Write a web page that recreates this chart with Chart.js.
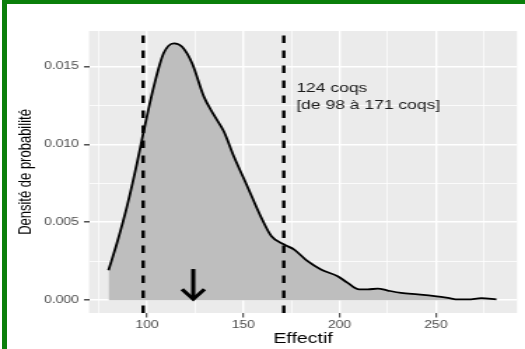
<!DOCTYPE html>
<html>
<head>
<meta charset="utf-8">
<script src="https://cdn.jsdelivr.net/npm/chart.js@4.4.1/dist/chart.umd.min.js"></script>
<style>
  html, body { margin: 0; padding: 0; background: #fff; }
  body { width: 525px; height: 349px; overflow: hidden; position: relative; }
  /* l'image d'origine est étirée horizontalement */
  #etire { position: absolute; left: 0; top: 0; width: 375px; height: 349px; transform: scaleX(1.4); transform-origin: 0 0; }
  #cadre { position: absolute; left: 2px; top: 0; width: 523px; height: 349px; box-sizing: border-box;
           border-left: 5px solid #0a7f0a; border-top: 4px solid #0a7f0a; pointer-events: none; }
</style>
</head>
<body>
<div id="etire"><canvas id="densite" width="375" height="349"></canvas></div>
<div id="cadre"></div>
<script>
// Courbe de densité
const densiteX = [80, 84.4, 89.6, 94.8, 98.2, 103.5, 108.6, 113.9, 118.2, 123.4, 129.5, 134.7, 139.9, 145.1,
  152.1, 159, 164.6, 171.2, 176.4, 183.4, 190.3, 199, 204.2, 210.2, 214.6, 219.8, 225, 231.9, 240.6,
  249.3, 256.2, 261.5, 266.7, 273.6, 281.4];
const densiteY = [0.00192, 0.00367, 0.00602, 0.0088, 0.0108, 0.0137, 0.01584, 0.01648, 0.01626, 0.0152,
  0.01306, 0.01189, 0.01082, 0.00922, 0.0073, 0.00538, 0.0041, 0.00357, 0.00325, 0.0025, 0.00197,
  0.00154, 0.00111, 0.00069, 0.00069, 0.00075, 0.00062, 0.00047, 0.00037, 0.00026, 0.00015, 0.00005,
  0.00005, 0.00013, 0.00005];

// Intervalle et estimation
const bornes = [98, 171];
const effectifEstime = 124;
const flecheDepart = 0.002;
const annotation = ["124 coqs", "[de 98 à 171 coqs]"];
const annotationX = 177.5;
const annotationY = [0.0136, 0.0125];

// Axes
const xLimites = [69.9, 292.1];
const yLimites = [-0.00082, 0.01727];
const xGraduations = [75, 100, 125, 150, 175, 200, 225, 250, 275];
const xEtiquettes = [100, 150, 200, 250];
const yGraduations = [0, 0.0025, 0.005, 0.0075, 0.01, 0.0125, 0.015];
const yEtiquettes = [0, 0.005, 0.01, 0.015];

const police = "'Liberation Sans', Arial, sans-serif";
const estMajeure = (liste, ctx) => !!ctx.tick && liste.includes(ctx.tick.value);

// fond gris du panneau (style ggplot)
const fondPanneau = {
  id: "fondPanneau",
  beforeDraw(chart) {
    const { ctx, chartArea: a } = chart;
    ctx.save();
    ctx.fillStyle = "#ebebeb";
    ctx.fillRect(a.left, a.top, a.right - a.left, a.bottom - a.top);
    ctx.restore();
  }
};

// flèche et texte placés avec les échelles
const annotations = {
  id: "annotations",
  afterDatasetsDraw(chart) {
    const { ctx, scales: { x: xs, y: ys } } = chart;
    const px = xs.getPixelForValue(effectifEstime);
    const y0 = ys.getPixelForValue(flecheDepart);
    const y1 = ys.getPixelForValue(0);
    ctx.save();
    ctx.strokeStyle = "#000";
    ctx.lineWidth = 3;
    ctx.lineCap = "butt";
    ctx.lineJoin = "miter";
    ctx.beginPath();
    ctx.moveTo(px, y0);
    ctx.lineTo(px, y1 - 1);
    ctx.stroke();
    ctx.beginPath();
    ctx.moveTo(px - 8, y1 - 11);
    ctx.lineTo(px, y1 - 1);
    ctx.lineTo(px + 8, y1 - 11);
    ctx.stroke();

    ctx.fillStyle = "#1a1a1a";
    ctx.font = "12.5px " + police;
    ctx.textAlign = "left";
    ctx.textBaseline = "middle";
    annotation.forEach((txt, i) => {
      ctx.fillText(txt, xs.getPixelForValue(annotationX), ys.getPixelForValue(annotationY[i]));
    });
    ctx.restore();
  }
};

const ctx = document.getElementById("densite").getContext("2d");
new Chart(ctx, {
  type: "line",
  data: {
    datasets: [
      {
        data: densiteX.map((x, i) => ({ x: x, y: densiteY[i] })),
        borderColor: "#000000",
        borderWidth: 1.8,
        backgroundColor: "#bebebe",
        fill: "origin",
        pointRadius: 0,
        cubicInterpolationMode: "monotone",
        order: 3
      },
      ...bornes.map(b => ({
        data: [{ x: b, y: yLimites[0] }, { x: b, y: yLimites[1] }],
        borderColor: "#000000",
        borderWidth: 2.4,
        borderDash: [7.5, 7.5],
        borderCapStyle: "butt",
        fill: false,
        pointRadius: 0,
        order: 1
      }))
    ]
  },
  options: {
    responsive: false,
    animation: false,
    layout: { padding: { top: 31, right: 5.7, left: 0, bottom: 0 } },
    plugins: {
      legend: { display: false },
      tooltip: { enabled: false }
    },
    scales: {
      x: {
        type: "linear",
        min: xLimites[0],
        max: xLimites[1],
        afterBuildTicks: s => { s.ticks = xGraduations.map(v => ({ value: v })); },
        afterFit: s => { s.height = 36; },
        border: { display: false },
        grid: {
          color: "#ffffff",
          lineWidth: c => estMajeure(xEtiquettes, c) ? 1.4 : 0.7,
          tickColor: c => estMajeure(xEtiquettes, c) ? "#333333" : "rgba(0,0,0,0)",
          tickLength: 4.5,
          tickWidth: 1
        },
        ticks: {
          autoSkip: false,
          maxRotation: 0,
          padding: 1.5,
          color: "#4d4d4d",
          font: { family: police, size: 10 },
          callback: v => xEtiquettes.includes(v) ? String(v) : ""
        },
        title: {
          display: true,
          text: "Effectif",
          color: "#000000",
          font: { family: police, size: 14 },
          padding: { top: 0, bottom: 1.6 }
        }
      },
      y: {
        type: "linear",
        min: yLimites[0],
        max: yLimites[1],
        afterBuildTicks: s => { s.ticks = yGraduations.map(v => ({ value: v })); },
        afterFit: s => { s.width = 63.6; },
        border: { display: false },
        grid: {
          color: "#ffffff",
          lineWidth: c => estMajeure(yEtiquettes, c) ? 1.6 : 0.8,
          tickColor: c => estMajeure(yEtiquettes, c) ? "#333333" : "rgba(0,0,0,0)",
          tickLength: 3.6,
          tickWidth: 1.3
        },
        ticks: {
          autoSkip: false,
          padding: 3.6,
          color: "#4d4d4d",
          font: { family: police, size: 10 },
          callback: v => yEtiquettes.includes(v) ? v.toFixed(3) : ""
        },
        title: {
          display: true,
          text: "Densité de probabilité",
          color: "#000000",
          font: { family: police, size: 13 },
          padding: { top: 10.8, bottom: 0 }
        }
      }
    }
  },
  plugins: [fondPanneau, annotations]
});
</script>
</body>
</html>
